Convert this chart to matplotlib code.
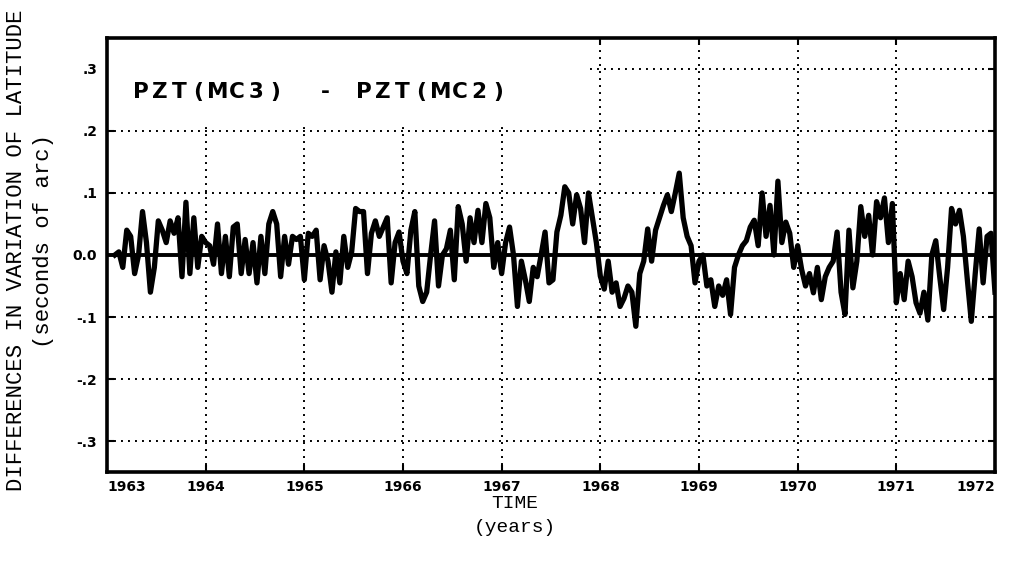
import numpy as np
import matplotlib.pyplot as plt
from matplotlib.patches import Rectangle

# differences PZT(MC3) - PZT(MC2), seconds of arc
# one value every 0.04 yr starting 1963.08
diff_1963 = [0.0, 0.005, -0.02, 0.04, 0.03, -0.03, 0.0, 0.07, 0.02, -0.06, -0.02, 0.055, 0.04,
             0.02, 0.055, 0.035, 0.06, -0.035, 0.085, -0.03, 0.06, -0.02, 0.03, 0.02, 0.015,
             -0.015, 0.05, -0.03, 0.03, -0.035, 0.045, 0.05, -0.03, 0.025, -0.03, 0.02, -0.045]
diff_1964 = [0.03, -0.03, 0.05, 0.07, 0.05, -0.035, 0.03, -0.015, 0.03, 0.025, 0.03, -0.04, 0.035,
             0.03, 0.04, -0.04, 0.015, -0.01, -0.06, 0.005, -0.045, 0.03, -0.02, 0.005, 0.075,
             0.07, 0.07, -0.03, 0.035, 0.055, 0.03, 0.045, 0.06, -0.045, 0.02, 0.037, -0.01]
diff_1966 = [-0.03, 0.04, 0.07, -0.05, -0.075, -0.06, 0.0, 0.055, -0.05, 0.0, 0.01, 0.04, -0.04,
             0.078, 0.05, -0.01, 0.06, 0.02, 0.072, 0.02, 0.083, 0.06, -0.02, 0.02, -0.03, 0.02,
             0.045, 0.0, -0.083, -0.01, -0.04, -0.075, -0.02, -0.035, 0.0, 0.037, -0.045]
diff_1967 = [-0.04, 0.037, 0.064, 0.11, 0.1, 0.05, 0.097, 0.075, 0.02, 0.1, 0.06, 0.02, -0.034,
             -0.055, -0.01, -0.06, -0.045, -0.083, -0.07, -0.05, -0.06, -0.115, -0.03, -0.01,
             0.042, -0.01, 0.04, 0.06, 0.08, 0.097, 0.07, 0.1, 0.132, 0.06, 0.03, 0.015, -0.045, -0.01]
diff_1969 = [0.0, -0.05, -0.04, -0.083, -0.05, -0.065, -0.04, -0.096, -0.02, 0.0, 0.015, 0.023,
             0.045, 0.056, 0.015, 0.1, 0.03, 0.08, 0.0, 0.119, 0.02, 0.053, 0.035, -0.02, 0.015,
             -0.023, -0.05, -0.03, -0.061, -0.02, -0.072, -0.035, -0.02, -0.01, 0.037, -0.06, -0.096]
diff_1970 = [0.04, -0.053, -0.01, 0.078, 0.03, 0.064, 0.0, 0.086, 0.06, 0.092, 0.02, 0.083, -0.077,
             -0.03, -0.072, -0.01, -0.035, -0.077, -0.094, -0.06, -0.105, 0.0, 0.023, -0.035,
             -0.088, -0.02, 0.075, 0.05, 0.072, 0.03, -0.04, -0.107, -0.03, 0.042, -0.045, 0.03,
             0.035, -0.06]

years = list(range(1963, 1973))
y_ticks = [-0.3, -0.2, -0.1, 0.0, 0.1, 0.2, 0.3]
y_labels = ['-.3', '-.2', '-.1', '0.0', '.1', '.2', '.3']

diff = np.array(diff_1963 + diff_1964 + diff_1966 + diff_1967 + diff_1969 + diff_1970)
t = np.linspace(1963.08, 1972.0, len(diff))

tick_font = ['Liberation Sans Narrow', 'DejaVu Sans']
mono = ['Liberation Mono', 'DejaVu Sans Mono']

fig = plt.figure(figsize=(10.21, 5.66), dpi=100)
ax = fig.add_axes([0.1048, 0.166, 0.8697, 0.767])

ax.set_xlim(1963, 1972)
ax.set_ylim(-0.35, 0.35)
ax.set_xticks(years)
ax.set_yticks(y_ticks)
ax.set_xticklabels([str(y) for y in years], family=tick_font, fontweight='bold', fontsize=10)
ax.set_yticklabels(y_labels, family=tick_font, fontweight='bold', fontsize=10)
labels = ax.get_xticklabels()
labels[0].set_horizontalalignment('left')
labels[-1].set_horizontalalignment('right')
ax.tick_params(direction='in', length=5, width=1.5, top=True, right=True)
ax.tick_params(axis='x', pad=6)
ax.tick_params(axis='y', pad=7)

ax.grid(True, color='black', linestyle=(0, (1, 2.6)), linewidth=1.4)
ax.set_axisbelow(True)
for s in ax.spines.values():
    s.set_linewidth(2.6)

# blank area behind the title (grid not drawn there in the original)
ax.add_patch(Rectangle((1963, 0.21), 4.88, 0.2, facecolor='white', edgecolor='none', zorder=1))

ax.axhline(0, color='black', linewidth=2.8, zorder=2)
ax.plot(t, diff, color='black', linewidth=3.8, solid_joinstyle='round', zorder=3)

# title, drawn letter by letter to get the wide plotter spacing
title_parts = [('PZT(MC3)', 1963.34), ('-', 1965.21), ('PZT(MC2)', 1965.60)]
for txt, x0 in title_parts:
    for k, ch in enumerate(txt):
        ax.text(x0 + 0.195 * k, 0.262, ch, ha='center', va='center', fontsize=15.5,
                fontweight='heavy', family='DejaVu Sans', zorder=4)

fig.text(17 / 1021, 1 - 250 / 566, 'DIFFERENCES IN VARIATION OF LATITUDE', rotation=90,
         ha='center', va='center', fontsize=16, family=mono)
fig.text(43 / 1021, 1 - 241 / 566, '(seconds of arc)', rotation=90,
         ha='center', va='center', fontsize=16, family=mono)
fig.text(515 / 1021, 1 - 504 / 566, 'TIME', ha='center', va='center', fontsize=14, family=mono)
fig.text(515 / 1021, 1 - 528 / 566, '(years)', ha='center', va='center', fontsize=14, family=mono)

fig.savefig('out.png', dpi=100)
